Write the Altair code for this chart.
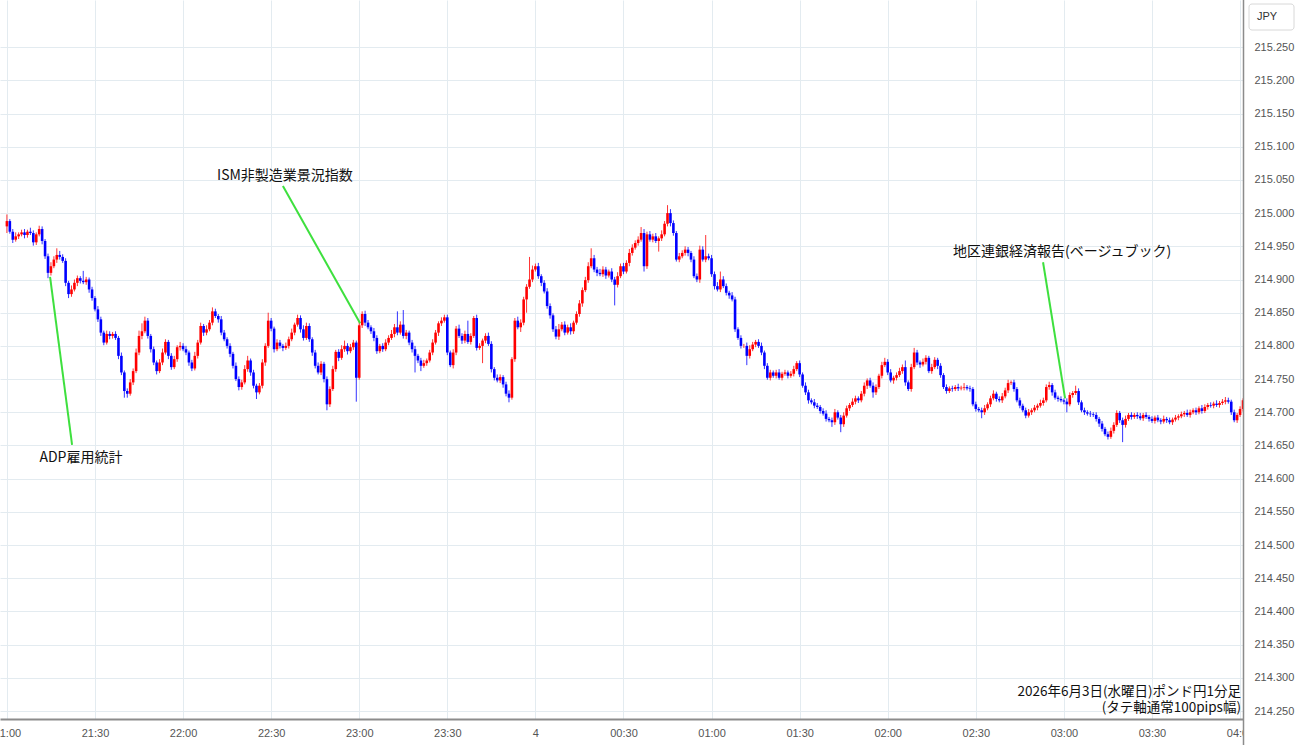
import altair as alt
import pandas as pd

# ---- price data (1-minute candles, GBP/JPY) : closes in thousandths above 214.000 ----
first_open = 980
closes = [
    988, 972, 960, 965, 968, 971, 967, 972, 970, 956,
    968, 976, 958, 935, 910, 920, 930, 937, 934, 928,
    895, 878, 885, 895, 902, 898, 896, 900, 885, 872,
    855, 840, 820, 805, 818, 815, 818, 812, 785, 760,
    732, 728, 745, 762, 790, 815, 822, 838, 815, 795,
    775, 762, 775, 790, 806, 785, 768, 780, 798, 800,
    795, 790, 775, 766, 785, 805, 830, 820, 825, 835,
    852, 845, 840, 820, 810, 800, 788, 770, 750, 738,
    745, 765, 778, 760, 740, 730, 740, 775, 800, 838,
    826, 795, 805, 800, 797, 800, 810, 820, 832, 842,
    825, 812, 830, 810, 790, 770, 760, 773, 750, 712,
    735, 765, 791, 782, 795, 800, 792, 798, 805, 752,
    831, 848, 835, 828, 822, 812, 792, 800, 795, 805,
    812, 818, 828, 820, 832, 815, 820, 805, 795, 785,
    778, 770, 774, 778, 790, 805, 820, 834, 838, 843,
    790, 771, 790, 826, 815, 808, 818, 806, 815, 842,
    797, 800, 808, 815, 803, 765, 752, 748, 753, 742,
    728, 722, 780, 838, 828, 835, 870, 889, 900, 915,
    920, 905, 895, 882, 860, 846, 825, 814, 825, 832,
    820, 828, 822, 835, 848, 864, 884, 899, 920, 932,
    915, 910, 908, 915, 906, 912, 900, 892, 905, 920,
    912, 925, 940, 948, 955, 960, 970, 920, 968, 960,
    965, 958, 962, 968, 984, 1000, 985, 970, 930, 935,
    940, 945, 940, 930, 905, 900, 945, 930, 935, 932,
    908, 890, 885, 900, 890, 880, 876, 870, 825, 812,
    800, 800, 785, 795, 802, 806, 800, 790, 770, 752,
    760, 755, 760, 752, 758, 760, 755, 758, 765, 774,
    757, 740, 730, 718, 715, 710, 708, 702, 698, 690,
    688, 685, 700, 692, 682, 695, 706, 711, 716, 721,
    718, 728, 740, 748, 740, 730, 738, 755, 771, 776,
    760, 748, 752, 756, 762, 768, 745, 735, 768, 790,
    775, 772, 776, 782, 762, 768, 779, 770, 756, 738,
    732, 736, 735, 738, 736, 737, 738, 736, 735, 712,
    705, 703, 700, 706, 712, 721, 728, 720, 718, 724,
    733, 744, 745, 735, 718, 710, 703, 695, 700, 703,
    707, 710, 714, 718, 738, 741, 730, 722, 720, 718,
    716, 712, 726, 729, 732, 715, 703, 700, 698, 697,
    696, 690, 683, 675, 667, 663, 672, 681, 699, 688,
    681, 690, 696, 693, 696, 694, 691, 696, 693, 690,
    687, 692, 688, 686, 690, 688, 685, 689, 692, 694,
    697, 699, 696, 700, 703, 700, 706, 702, 708, 711,
    710, 713, 711, 714, 716, 718, 716, 700, 688, 696,
    705, 718,
]
# upper wick above body (thousandths)
wick_up = [
    10, 3, 4, 6, 3, 4, 5, 3, 6, 4,
    3, 5, 4, 3, 4, 6, 5, 10, 6, 4,
    4, 3, 6, 5, 4, 3, 15, 4, 3, 4,
    3, 5, 4, 3, 5, 4, 3, 4, 3, 5,
    3, 4, 5, 4, 6, 8, 12, 6, 4, 3,
    4, 3, 5, 6, 4, 3, 4, 5, 3, 6,
    4, 5, 3, 4, 6, 4, 5, 3, 6, 4,
    6, 4, 3, 5, 4, 3, 4, 3, 5, 4,
    4, 6, 7, 3, 4, 3, 4, 5, 4, 12,
    4, 3, 5, 4, 3, 5, 4, 6, 3, 5,
    4, 6, 5, 4, 3, 4, 5, 4, 3, 4,
    4, 5, 3, 4, 6, 8, 4, 5, 4, 3,
    6, 4, 5, 4, 3, 5, 4, 3, 4, 5,
    4, 6, 5, 24, 5, 22, 4, 3, 4, 5,
    3, 4, 5, 3, 4, 5, 4, 3, 5, 4,
    4, 3, 5, 4, 6, 4, 5, 20, 4, 3,
    5, 4, 3, 4, 5, 4, 3, 5, 4, 3,
    4, 5, 3, 4, 6, 5, 4, 4, 34, 6,
    4, 5, 3, 4, 5, 4, 3, 5, 8, 4,
    5, 4, 6, 3, 4, 5, 4, 5, 6, 15,
    5, 4, 6, 5, 4, 3, 5, 4, 6, 4,
    5, 4, 6, 5, 4, 5, 9, 6, 4, 5,
    4, 5, 3, 6, 4, 12, 6, 4, 3, 5,
    4, 5, 4, 3, 5, 4, 6, 5, 32, 4,
    5, 4, 6, 12, 5, 4, 3, 5, 4, 3,
    4, 3, 5, 6, 4, 3, 4, 5, 3, 4,
    4, 3, 4, 5, 3, 4, 3, 4, 5, 3,
    4, 3, 5, 4, 3, 5, 4, 3, 4, 5,
    3, 4, 5, 3, 4, 5, 4, 3, 5, 4,
    3, 4, 5, 3, 4, 5, 4, 3, 5, 6,
    4, 5, 3, 4, 5, 4, 10, 3, 5, 7,
    4, 3, 5, 4, 3, 5, 4, 3, 4, 3,
    4, 3, 4, 3, 5, 3, 6, 3, 4, 3,
    4, 3, 4, 5, 3, 4, 5, 3, 4, 5,
    4, 5, 3, 4, 3, 4, 3, 4, 5, 3,
    4, 3, 5, 4, 4, 5, 3, 4, 3, 4,
    3, 5, 4, 3, 8, 4, 3, 4, 3, 4,
    3, 4, 3, 4, 3, 4, 5, 4, 4, 3,
    4, 5, 3, 4, 3, 4, 5, 3, 4, 3,
    4, 3, 4, 3, 5, 3, 4, 3, 4, 3,
    4, 3, 5, 4, 3, 4, 3, 5, 4, 3,
    4, 3, 5, 3, 4, 5, 4, 3, 4, 3,
    4, 3,
]
# lower wick below body (thousandths)
wick_dn = [
    10, 3, 5, 3, 4, 3, 5, 4, 3, 5,
    4, 3, 5, 4, 8, 4, 3, 5, 4, 3,
    5, 6, 4, 3, 5, 4, 3, 4, 5, 4,
    3, 4, 5, 4, 3, 5, 4, 3, 5, 4,
    10, 6, 3, 4, 3, 4, 5, 3, 4, 5,
    4, 5, 3, 4, 3, 5, 4, 3, 4, 5,
    3, 4, 5, 4, 3, 4, 3, 5, 4, 3,
    4, 3, 5, 4, 3, 4, 5, 4, 3, 5,
    4, 3, 4, 5, 4, 10, 3, 4, 5, 3,
    4, 5, 3, 4, 5, 3, 4, 3, 4, 3,
    5, 4, 3, 4, 5, 4, 3, 4, 5, 9,
    4, 3, 4, 5, 3, 4, 5, 3, 4, 36,
    3, 4, 5, 3, 4, 5, 4, 3, 4, 3,
    4, 3, 5, 4, 3, 4, 5, 4, 5, 25,
    4, 8, 3, 4, 3, 4, 3, 5, 4, 3,
    4, 3, 5, 4, 3, 5, 4, 3, 4, 3,
    4, 3, 26, 4, 3, 5, 4, 3, 4, 5,
    4, 7, 3, 4, 3, 7, 4, 20, 3, 4,
    3, 4, 5, 3, 4, 5, 4, 4, 5, 3,
    4, 3, 5, 4, 3, 4, 5, 3, 4, 3,
    4, 5, 3, 4, 5, 3, 4, 31, 4, 3,
    4, 3, 5, 4, 3, 4, 3, 8, 4, 3,
    4, 3, 16, 4, 3, 4, 5, 4, 3, 4,
    3, 4, 5, 4, 3, 4, 5, 3, 4, 3,
    4, 5, 3, 4, 3, 4, 5, 3, 4, 3,
    4, 3, 14, 4, 3, 4, 3, 4, 5, 3,
    4, 3, 4, 3, 4, 3, 4, 3, 4, 3,
    4, 3, 4, 5, 3, 4, 3, 4, 3, 4,
    3, 7, 4, 3, 12, 4, 3, 4, 3, 4,
    4, 3, 4, 5, 3, 8, 4, 3, 4, 3,
    4, 3, 5, 4, 3, 4, 5, 3, 4, 3,
    4, 5, 3, 4, 3, 4, 3, 5, 4, 3,
    4, 3, 4, 3, 4, 3, 4, 3, 4, 3,
    4, 3, 9, 4, 3, 4, 3, 4, 3, 4,
    3, 4, 3, 4, 3, 4, 3, 4, 3, 4,
    3, 4, 3, 4, 3, 4, 5, 3, 4, 3,
    4, 12, 3, 4, 3, 4, 3, 4, 3, 4,
    3, 4, 5, 4, 3, 4, 3, 4, 3, 4,
    26, 4, 3, 4, 3, 4, 3, 4, 3, 4,
    3, 4, 3, 4, 3, 4, 3, 4, 3, 4,
    3, 4, 3, 4, 3, 4, 3, 4, 3, 4,
    3, 4, 3, 4, 3, 4, 3, 4, 3, 4,
    3, 4,
]
assert len(closes) == len(wick_up) == len(wick_dn), (len(closes), len(wick_up), len(wick_dn))

# x axis: minutes after 21:00, tick every 30 minutes
tick_minutes = [0, 30, 60, 90, 120, 150, 180, 210, 240, 270, 300, 330, 360, 390, 420]
tick_labels = ["21:00", "21:30", "22:00", "22:30", "23:00", "23:30", "4", "00:30",
               "01:00", "01:30", "02:00", "02:30", "03:00", "03:30", "04:00"]
price_ticks = [round(214.25 + 0.05 * k, 3) for k in range(21)]

# event annotations: label, text pos (minute, price), line from -> to
ann_labels = ["ADP雇用統計", "ISM非製造業景況指数", "地区連銀経済報告(ベージュブック)"]
ann_text_t = [25.2, 94.7, 359.4]
ann_text_p = [214.631, 215.056, 214.941]
ann_line_t1 = [22.2, 94.0, 352.9]
ann_line_p1 = [214.651, 215.041, 214.926]
ann_line_t2 = [14.7, 120.3, 360.4]
ann_line_p2 = [214.904, 214.834, 214.721]

caption_lines = ["2026年6月3日(水曜日)ポンド円1分足", "(タテ軸通常100pips幅)"]

# ---- build table ----
opens = [first_open] + closes[:-1]
rows = []
for i, (o, c, u, d) in enumerate(zip(opens, closes, wick_up, wick_dn)):
    rows.append({
        "t": i,
        "o": 214 + o / 1000,
        "c": 214 + c / 1000,
        "h": 214 + (max(o, c) + u) / 1000,
        "l": 214 + (min(o, c) - d) / 1000,
        "dir": "up" if c >= o else "down",
    })
df = pd.DataFrame(rows)

ann = pd.DataFrame({
    "label": ann_labels, "tt": ann_text_t, "tp": ann_text_p,
    "t1": ann_line_t1, "p1": ann_line_p1, "t2": ann_line_t2, "p2": ann_line_p2,
})

W, H = 1243, 719
xscale = alt.Scale(domain=[-2.35, 421.0], nice=False, zero=False, padding=0)
yscale = alt.Scale(domain=[214.238, 215.321], nice=False, zero=False, padding=0)
cscale = alt.Scale(domain=["up", "down"], range=["#ff0000", "#0000ff"])

label_expr = "[" + ",".join("'%s'" % s for s in tick_labels) + "][round(datum.value / 30)]"

xaxis = alt.Axis(values=tick_minutes, labelExpr=label_expr, grid=True, gridColor="#e3ebf0",
                 domain=True, domainColor="#8c8c8c", domainWidth=2, ticks=False,
                 labelPadding=8, labelFontSize=11, labelColor="#555555", labelFlush=False,
                 labelOverlap=False, labelFont="Liberation Sans", title=None)
yaxis = alt.Axis(orient="right", values=price_ticks, format=".3f", grid=True, gridColor="#e3ebf0",
                 domain=False, ticks=False, labelPadding=11, labelFontSize=11,
                 labelColor="#555555", labelFont="Liberation Sans", title=None, labelOverlap=False)

base = alt.Chart(df)

wicks = base.mark_rule(strokeWidth=1, opacity=0.8, clip=True).encode(
    x=alt.X("t:Q", scale=xscale, axis=xaxis),
    y=alt.Y("l:Q", scale=yscale, axis=yaxis),
    y2="h:Q",
    color=alt.Color("dir:N", scale=cscale, legend=None),
)
bodies = base.mark_bar(size=2.6, clip=True).encode(
    x=alt.X("t:Q", scale=xscale, axis=xaxis),
    y=alt.Y("o:Q", scale=yscale, axis=yaxis),
    y2="c:Q",
    color=alt.Color("dir:N", scale=cscale, legend=None),
)

ann_lines = alt.Chart(ann).mark_rule(color="#3ee03e", strokeWidth=2).encode(
    x=alt.X("t1:Q", scale=xscale, axis=xaxis),
    y=alt.Y("p1:Q", scale=yscale, axis=yaxis),
    x2="t2:Q",
    y2="p2:Q",
)
ann_text = alt.Chart(ann).mark_text(font="Noto Sans CJK JP", fontSize=14, color="#111111",
                                    baseline="middle", align="center").encode(
    x=alt.X("tt:Q", scale=xscale, axis=xaxis),
    y=alt.Y("tp:Q", scale=yscale, axis=yaxis),
    text="label:N",
)

cap1 = alt.Chart(pd.DataFrame({"txt": [caption_lines[0]]})).mark_text(
    font="Noto Sans CJK JP", fontSize=13.5, color="#111111", align="right", baseline="middle").encode(
    x=alt.value(1241), y=alt.value(692), text="txt:N")
cap2 = alt.Chart(pd.DataFrame({"txt": [caption_lines[1]]})).mark_text(
    font="Noto Sans CJK JP", fontSize=13.5, color="#111111", align="right", baseline="middle").encode(
    x=alt.value(1241), y=alt.value(708), text="txt:N")

one = pd.DataFrame({"k": [0]})
mask = alt.Chart(one).mark_rect(color="white", clip=False).encode(
    x=alt.value(1244), x2=alt.value(1300), y=alt.value(720), y2=alt.value(745))
vline = alt.Chart(one).mark_rule(color="#8c8c8c", strokeWidth=1.5, clip=False).encode(
    x=alt.value(1243.5), y=alt.value(0), y2=alt.value(745))
jpy_box = alt.Chart(one).mark_rect(fill="white", stroke="#d8d8d8", strokeWidth=1,
                                   cornerRadius=3, clip=False).encode(
    x=alt.value(1249), x2=alt.value(1294), y=alt.value(4), y2=alt.value(30))
jpy_text = alt.Chart(pd.DataFrame({"t": ["JPY"]})).mark_text(
    font="Liberation Sans", fontSize=11, color="#333333", align="center", baseline="middle").encode(
    x=alt.value(1267), y=alt.value(17), text="t:N")

chart = alt.layer(wicks, bodies, ann_lines, ann_text, cap1, cap2, mask, vline, jpy_box, jpy_text).properties(
    width=W, height=H,
    autosize=alt.AutoSizeParams(type="none"),
    padding={"left": 0, "top": 0, "right": 57, "bottom": 26},
    background="white",
).configure_view(stroke=None)

chart.save("out.html", embed_options={"renderer": "svg", "actions": False})
